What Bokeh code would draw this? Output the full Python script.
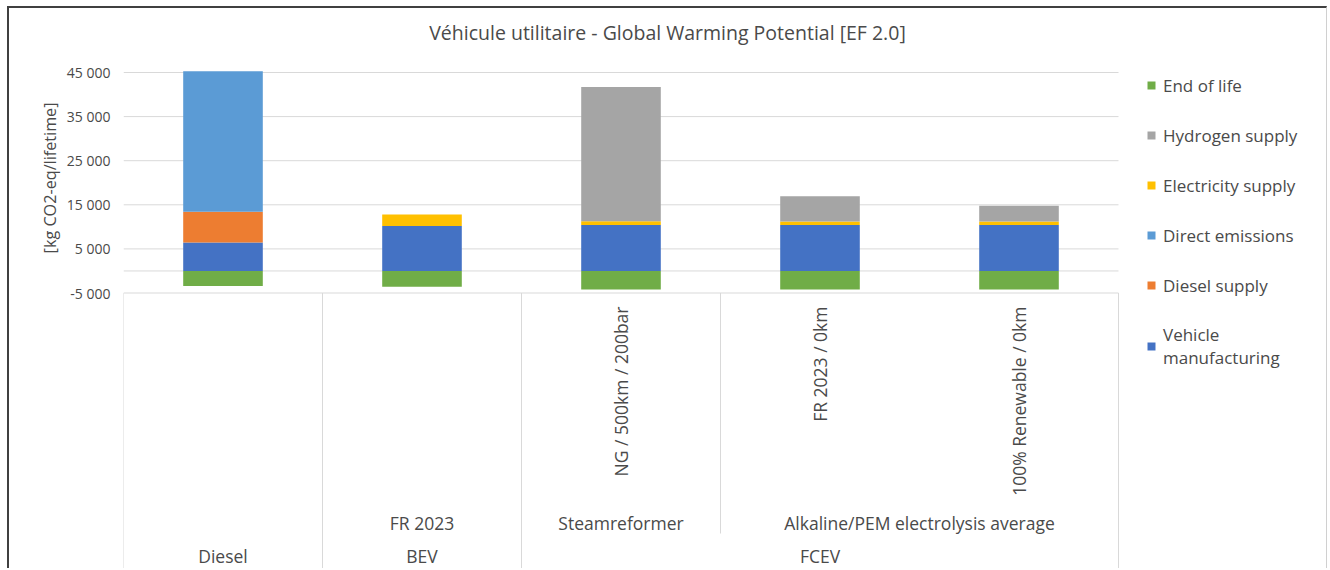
import math
import textwrap
from bokeh.plotting import figure
from bokeh.models import (Range1d, FixedTicker, Legend, LegendItem,
                          ColumnDataSource, Title, Label, CDSView, BooleanFilter)
from bokeh.core.properties import value
from bokeh.embed import file_html
from bokeh.resources import INLINE

# ---------------- data ----------------
title_text = "Véhicule utilitaire - Global Warming Potential [EF 2.0]"
y_axis_label = "[kg CO2-eq/lifetime]"

vehicle_types = ["Diesel", "BEV", "FCEV", "FCEV", "FCEV"]
energy_sources = ["", "FR 2023", "Steamreformer",
                  "Alkaline/PEM electrolysis average",
                  "Alkaline/PEM electrolysis average"]
scenarios = ["", "", "NG / 500km / 200bar", "FR 2023 / 0km", "100% Renewable / 0km"]

vehicle_manufacturing = [6450, 10200, 10430, 10430, 10430]
diesel_supply = [6950, 0, 0, 0, 0]
direct_emissions = [31900, 0, 0, 0, 0]
electricity_supply = [0, 2600, 850, 780, 780]
hydrogen_supply = [0, 0, 30450, 5750, 3600]
end_of_life = [-3400, -3600, -4200, -4200, -4200]

series_names = ["Vehicle manufacturing", "Diesel supply", "Direct emissions",
                "Electricity supply", "Hydrogen supply"]
series_colors = ["#4472C4", "#ED7D31", "#5B9BD5", "#FFC000", "#A5A5A5"]
eol_name = "End of life"
eol_color = "#70AD47"

y_ticks = [-5000, 5000, 15000, 25000, 35000, 45000]
y_tick_labels = ["-5 000", "5 000", "15 000", "25 000", "35 000", "45 000"]

# ---------------- layout ----------------
FONT = "Open Sans"
TXT = "#4a4a4a"
GRID = "#D9D9D9"
W, H = 1320, 562
MB_LEFT = 114
CAT_PX = 199          # width of one category column (px)
PLOT_TOP_PX = 64      # distance from top of chart to the top of the value axis
PX_PER_10K = 44.1
units_per_px = 10000 / PX_PER_10K
frame_w = W - MB_LEFT
y_top = y_ticks[-1] + PLOT_TOP_PX * units_per_px
y_bot = y_top - H * units_per_px


def y_at(px_below_axis_top):
    return y_ticks[-1] - px_below_axis_top * units_per_px


n = len(vehicle_types)
x_center = [i + 0.5 for i in range(n)]

p = figure(width=W, height=H, x_range=Range1d(0, frame_w / CAT_PX),
           y_range=Range1d(y_bot, y_top),
           output_backend="svg", toolbar_location=None, x_axis_location=None,
           min_border_left=MB_LEFT, min_border_right=0,
           min_border_top=0, min_border_bottom=0)
p.outline_line_color = None
p.background_fill_color = "white"
p.border_fill_color = "white"
p.styles = {"margin-left": "7px", "margin-top": "6px",
            "border-left": "2px solid #404040", "border-top": "2px solid #404040",
            "border-right": "1px solid #D0D0D0"}
p.xgrid.visible = False
p.ygrid.visible = False

# chart title
p.add_layout(Label(x=544, y=538, x_units="screen", y_units="screen", text=title_text,
                   text_align="center", text_baseline="middle", text_font=FONT,
                   text_font_size="19.5px", text_color=TXT))

ax = p.yaxis[0]
ax.ticker = FixedTicker(ticks=y_ticks)
ax.major_label_overrides = dict(zip(y_ticks, y_tick_labels))
ax.major_label_text_font = FONT
ax.major_label_text_font_size = "14px"
ax.major_label_text_color = TXT
ax.major_label_standoff = 13
ax.axis_line_color = None
ax.major_tick_line_color = None
ax.minor_tick_line_color = None
ax.major_tick_out = 0
ax.major_tick_in = 0

# y axis title (top aligned along the value axis)
p.add_layout(Title(text=y_axis_label, align="right", offset=94, standoff=5,
                   text_font=FONT, text_font_size="16.2px", text_font_style="normal",
                   text_color=TXT), "left")

# gridlines + category axis line, across the category columns
grid_y = sorted(y_ticks + [0])
p.segment(x0=[0] * len(grid_y), x1=[n] * len(grid_y), y0=grid_y, y1=grid_y,
          line_color=GRID, line_width=1)

# ---------------- bars ----------------
src = ColumnDataSource(dict(
    x=x_center,
    vm=vehicle_manufacturing, ds=diesel_supply, de=direct_emissions,
    es=electricity_supply, hs=hydrogen_supply, eol=end_of_life))
stack_keys = ["vm", "ds", "de", "es", "hs"]
stack_vals = [vehicle_manufacturing, diesel_supply, direct_emissions,
              electricity_supply, hydrogen_supply]
renderers = p.vbar_stack(stack_keys, x="x", width=0.4, source=src,
                         fill_color=series_colors, line_color=None)
for r, vals in zip(renderers, stack_vals):
    r.view = CDSView(filter=BooleanFilter([v != 0 for v in vals]))
r_eol = p.vbar(x="x", top="eol", bottom=0, width=0.4, source=src,
               fill_color=eol_color, line_color=None)

# ---------------- category table ----------------
seg_x, seg_y1 = [], []
for i in range(n + 1):
    if i in (0, n) or vehicle_types[i] != vehicle_types[i - 1]:
        seg_x.append(i)
        seg_y1.append(y_bot)
    elif energy_sources[i] != energy_sources[i - 1]:
        seg_x.append(i)
        seg_y1.append(y_at(461))
p.segment(x0=seg_x, x1=seg_x, y0=[y_ticks[0]] * len(seg_x), y1=seg_y1,
          line_color=GRID, line_width=1)


def spans(keys):
    out = []
    for i, k in enumerate(keys):
        if out and out[-1][0] == k:
            out[-1][2] = i + 1
        else:
            out.append([k, i, i + 1])
    return out


LBL = "17.5px"
# level 3 (rotated scenario labels)
l3 = [(x, s) for x, s in zip(x_center, scenarios) if s]
p.text(x=[x for x, _ in l3], y=[y_at(234)] * len(l3), text=[s for _, s in l3],
       angle=math.pi / 2, text_align="right", text_baseline="middle",
       text_font=value(FONT), text_font_size=LBL, text_color=TXT)

# level 2 (energy source)
l2 = [(k[1], (a + b) / 2) for k, a, b in spans(list(zip(vehicle_types, energy_sources)))
      if k[1]]
p.text(x=[x for _, x in l2], y=[y_at(450)] * len(l2), text=[t for t, _ in l2],
       text_align="center", text_baseline="middle",
       text_font=value(FONT), text_font_size=LBL, text_color=TXT)

# level 1 (vehicle type)
l1 = [(k, (a + b) / 2) for k, a, b in spans(vehicle_types)]
p.text(x=[x for _, x in l1], y=[y_at(483)] * len(l1), text=[t for t, _ in l1],
       text_align="center", text_baseline="middle",
       text_font=value(FONT), text_font_size=LBL, text_color=TXT)

# ---------------- legend ----------------
items = [LegendItem(label=eol_name, renderers=[r_eol])]
for name, r in reversed(list(zip(series_names, renderers))):
    items.append(LegendItem(label=textwrap.fill(name, 20), renderers=[r]))
legend = Legend(items=items, location=(1023, 201), padding=0, margin=0,
                spacing=26, label_height=24, glyph_width=10, glyph_height=10,
                label_standoff=7, label_text_font=FONT, label_text_font_size="17px",
                label_text_color=TXT, border_line_color=None,
                background_fill_alpha=0)
p.add_layout(legend, "center")

open("out.html", "w").write(file_html(p, INLINE))
